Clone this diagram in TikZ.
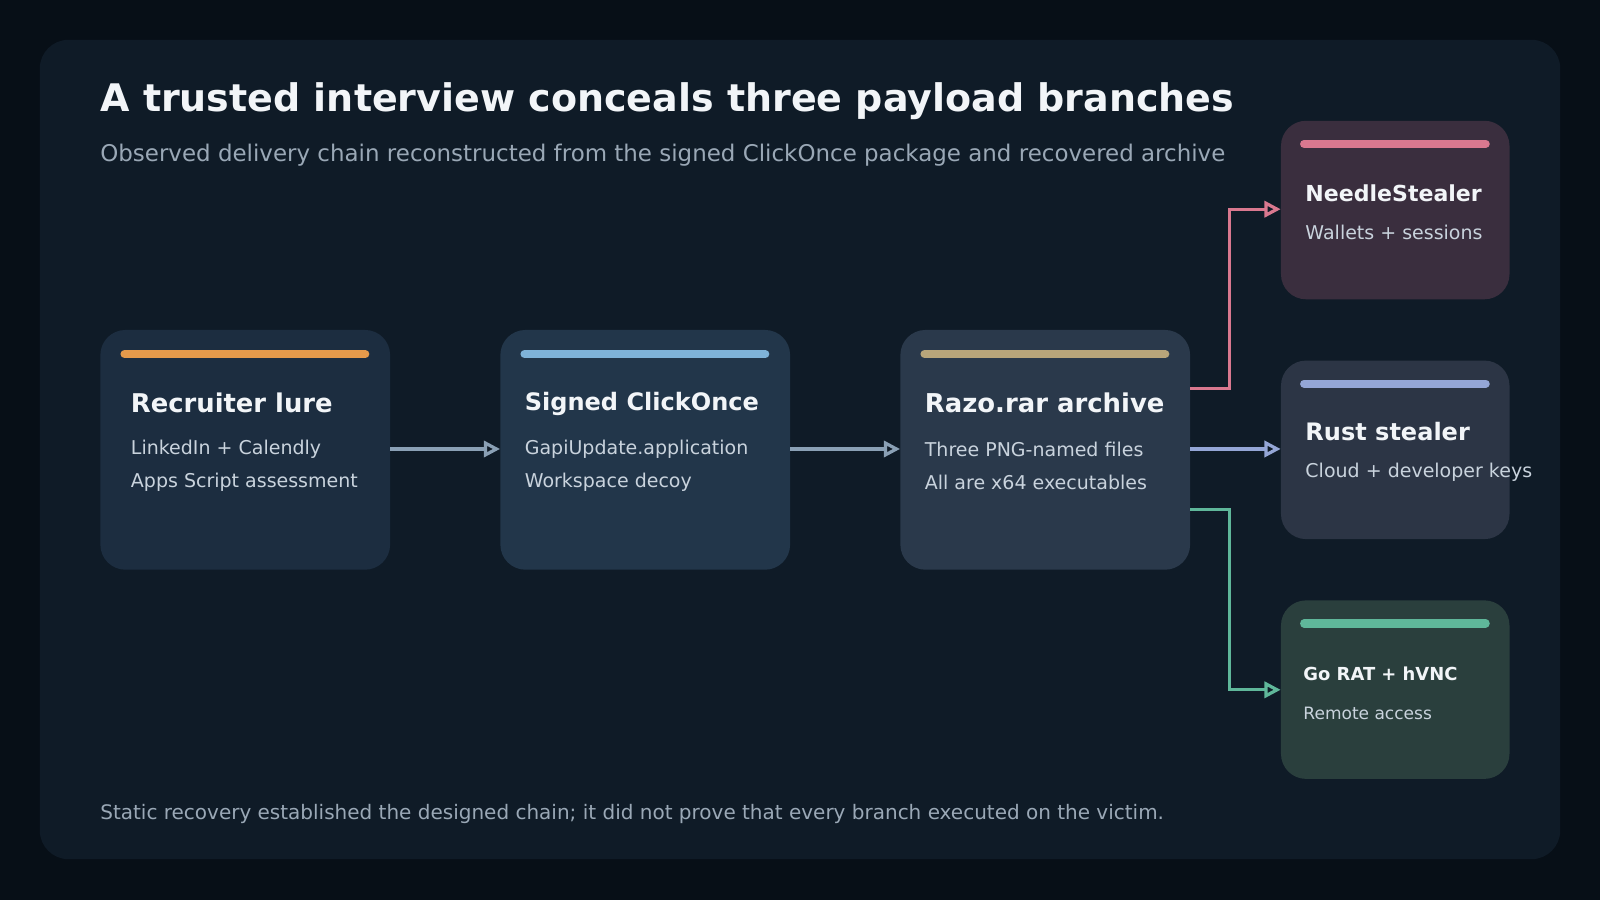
\documentclass[tikz,border=0pt]{standalone}
\usepackage{fontspec}
\setmainfont{DejaVu Sans}
\usetikzlibrary{arrows.meta,positioning}
\definecolor{pagebg}{HTML}{070F17}
\definecolor{panel}{HTML}{0F1B27}
\definecolor{lureBox}{HTML}{1C2D40}
\definecolor{clickBox}{HTML}{22364A}
\definecolor{rarBox}{HTML}{2A394B}
\definecolor{needleBox}{HTML}{3A2E3E}
\definecolor{rustBox}{HTML}{2C3545}
\definecolor{goBox}{HTML}{2A3F3D}
\definecolor{lureBar}{HTML}{E59A4B}
\definecolor{clickBar}{HTML}{7FB3D9}
\definecolor{rarBar}{HTML}{B8A57A}
\definecolor{needleBar}{HTML}{D9788F}
\definecolor{rustBar}{HTML}{94A6D6}
\definecolor{goBar}{HTML}{5FB79A}
\definecolor{flow}{HTML}{8AA0B5}
\definecolor{titleTxt}{HTML}{F2F5F8}
\definecolor{subTxt}{HTML}{9AA8B6}
\definecolor{bodyTxt}{HTML}{C9D3DD}
\tikzset{
  >={Triangle[open,length=9pt,width=9pt]},
  card/.style={draw=none, fill=#1, rounded corners=14pt, anchor=north west, inner sep=0pt},
  bigcard/.style={card=#1, minimum width=5.68cm, minimum height=4.7cm},
  smallcard/.style={card=#1, minimum width=4.48cm, minimum height=3.5cm},
  bar/.style={line width=4.5pt, line cap=round, draw=#1},
  head/.style={anchor=west, inner sep=0pt, text=titleTxt, font=\bfseries\fontsize{#1}{16}\selectfont},
  head/.default=13.4,
  body/.style={anchor=west, inner sep=0pt, text=bodyTxt, font=\fontsize{10.6}{12}\selectfont},
  link/.style={->, line width=1.8pt, draw=#1}
}
\begin{document}
\begin{tikzpicture}[x=0.02cm, y=-0.02cm]
    \fill[pagebg] (0,0) rectangle (1568,882);
    \fill[panel, rounded corners=16pt] (39,39) rectangle (1529,842);
    \useasboundingbox (0,0) rectangle (1568,882);

    % Title
    \node[anchor=west, inner sep=0pt, text=titleTxt, font=\bfseries\fontsize{21.2}{24}\selectfont] (title) at (98,99) {A trusted interview conceals three payload branches};
    \node[anchor=west, inner sep=0pt, text=subTxt, font=\fontsize{12.8}{15}\selectfont] (sub) at (98,152) {Observed delivery chain reconstructed from the signed ClickOnce package and recovered archive};

    % Main chain
    \node[bigcard=lureBox] (lure) at (98,323) {};
    \node[bigcard=clickBox] (click) at (490,323) {};
    \node[bigcard=rarBox] (rar) at (882,323) {};
    \draw[bar=lureBar] (122,347) -- (358,347);
    \draw[bar=clickBar] (514,347) -- (750,347);
    \draw[bar=rarBar] (906,347) -- (1142,347);
    \node[head=14.4] at (128,395) {Recruiter lure};
    \node[body] at (128,440) {LinkedIn + Calendly};
    \node[body] at (128,473) {Apps Script assessment};
    \node[head] at (514,396) {Signed ClickOnce};
    \node[body] at (514,440) {GapiUpdate.application};
    \node[body] at (514,473) {Workspace decoy};
    \node[head=14.45] at (906,395) {Razo.rar archive};
    \node[body] at (906,440) {Three PNG-named files};
    \node[body] at (906,473) {All are x64 executables};

    % Payload branches
    \node[smallcard=needleBox] (needle) at (1255,118) {};
    \node[smallcard=rustBox] (rust) at (1255,353) {};
    \node[smallcard=goBox] (gorat) at (1255,588) {};
    \draw[bar=needleBar] (1278,141) -- (1456,141);
    \draw[bar=rustBar] (1278,376) -- (1456,376);
    \draw[bar=goBar] (1278,611) -- (1456,611);
    \node[head=12.3] at (1279,189) {NeedleStealer};
    \node[body] at (1279,228) {Wallets + sessions};
    \node[head] at (1279,423) {Rust stealer};
    \node[body] at (1279,463) {Cloud + developer keys};
    \node[head=10] at (1277,660) {Go RAT + hVNC};
    \node[body, font=\fontsize{9.5}{11}\selectfont] at (1277,699) {Remote access};

    % Connectors
    \draw[link=flow] (lure.east |- 0,440) -- (click.west |- 0,440);
    \draw[link=flow] (click.east |- 0,440) -- (rar.west |- 0,440);
    \draw[link=rustBar] (rar.east |- 0,440) -- (rust.west |- 0,440);
    \draw[link=needleBar] (rar.east |- 0,381) -- (1205,381) -- (1205,205) -- (needle.west |- 0,205);
    \draw[link=goBar] (rar.east |- 0,499) -- (1205,499) -- (1205,676) -- (gorat.west |- 0,676);

    % Footer
    \node[anchor=west, inner sep=0pt, text=subTxt, font=\fontsize{11.15}{13}\selectfont] (note) at (98,798) {Static recovery established the designed chain; it did not prove that every branch executed on the victim.};
\end{tikzpicture}
\end{document}
